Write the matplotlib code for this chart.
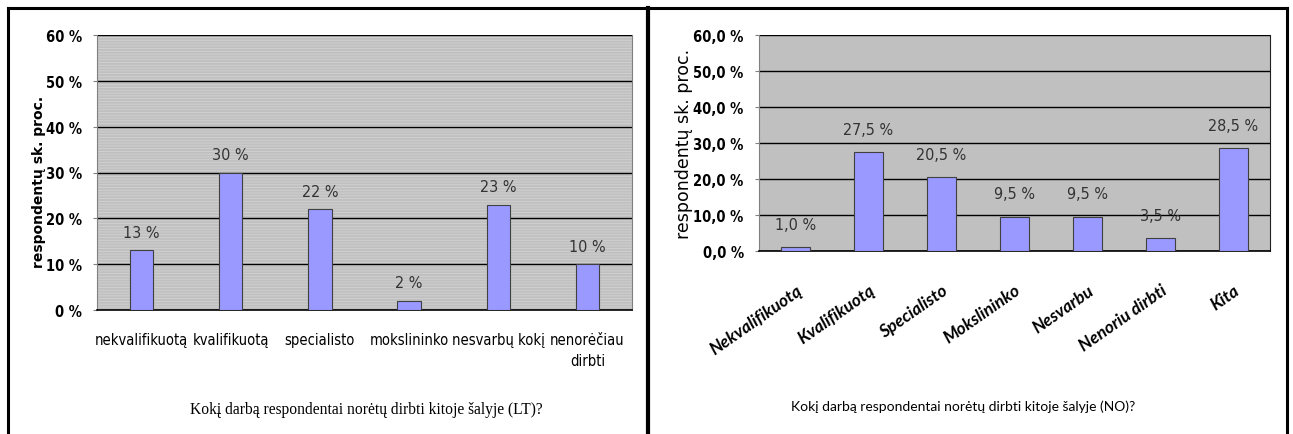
import matplotlib
matplotlib.use("Agg")
import numpy as np
from matplotlib import pyplot as plt
from matplotlib.lines import Line2D
from matplotlib.patches import Rectangle

# Left chart (LT)
lt_labels = ["nekvalifikuotą", "kvalifikuotą", "specialisto", "mokslininko", "nesvarbų kokį", "nenorėčiau\ndirbti"]
lt_values = [13, 30, 22, 2, 23, 10]
lt_title = "Kokį darbą respondentai norėtų dirbti kitoje šalyje (LT)?"

# Right chart (NO)
no_labels = ["Nekvalifikuotą", "Kvalifikuotą", "Specialisto", "Mokslininko", "Nesvarbu", "Nenoriu dirbti", "Kita"]
no_values = [1.0, 27.5, 20.5, 9.5, 9.5, 3.5, 28.5]
no_title = "Kokį darbą respondentai norėtų dirbti kitoje šalyje (NO)?"

y_ticks = [0, 10, 20, 30, 40, 50, 60]
ylabel = "respondentų sk. proc."

NARROW = dict(family="DejaVu Sans", stretch="condensed")
BAR_COLOR = "#9999FF"
BG = "#C0C0C0"

plt.rcParams["hatch.linewidth"] = 0.6

W, H = 1293, 435
fig = plt.figure(figsize=(W / 100, H / 100), dpi=100)
fig.patch.set_facecolor("white")


def px_ax(l, t, r, b):
	return fig.add_axes([l / W, 1 - b / H, (r - l) / W, (b - t) / H])


# ---- left chart ----
ax1 = px_ax(97, 36, 632, 311)
ax1.set_facecolor(BG)
ax1.add_patch(Rectangle((0, 0), 1, 1, transform=ax1.transAxes, facecolor=BG,
						edgecolor="#D2D2D2", linewidth=0, hatch="------", zorder=0))
x1 = np.arange(len(lt_values))
ax1.bar(x1, lt_values, width=0.26, color=BAR_COLOR, edgecolor="#404040", linewidth=0.8, zorder=3)
for xi, v in zip(x1, lt_values):
	ax1.text(xi, v + 2.3, f"{v} %", ha="center", va="bottom", fontsize=11.5,
			 color="#333333", zorder=4, **NARROW)
ax1.set_xlim(-0.5, len(lt_values) - 0.5)
ax1.set_ylim(0, 60)
ax1.set_yticks(y_ticks)
ax1.set_yticklabels([f"{t} %" for t in y_ticks], fontweight="bold", fontsize=10.5, **NARROW)
ax1.set_xticks(x1)
ax1.set_xticklabels(lt_labels, fontsize=10.5, linespacing=1.5, **NARROW)
ax1.tick_params(axis="x", length=0, pad=16)
ax1.tick_params(axis="y", length=3, color="#808080", pad=8)
ax1.grid(axis="y", color="black", linewidth=1)
ax1.set_axisbelow(True)
ax1.spines["left"].set_color("#808080")
ax1.spines["right"].set_color("#808080")
ax1.spines["top"].set_visible(False)
ax1.spines["bottom"].set_linewidth(1.2)
ax1.set_ylabel(ylabel, family="DejaVu Sans", fontweight="bold", fontsize=10)
ax1.yaxis.set_label_coords(-0.095, 0.47)

# ---- right chart ----
ax2 = px_ax(759, 36, 1270, 252)
ax2.set_facecolor(BG)
x2 = np.arange(len(no_values))
ax2.bar(x2, no_values, width=0.4, color=BAR_COLOR, edgecolor="#404040", linewidth=0.8, zorder=3)
for xi, v in zip(x2, no_values):
	ax2.text(xi, v + 4.3, f"{v:.1f} %".replace(".", ","), ha="center", va="bottom",
			 fontsize=11.5, color="#333333", zorder=4, **NARROW)
ax2.set_xlim(-0.5, len(no_values) - 0.5)
ax2.set_ylim(0, 60)
ax2.set_yticks(y_ticks)
ax2.set_yticklabels([f"{t:.1f} %".replace(".", ",") for t in y_ticks],
					fontweight="bold", fontsize=10.5, **NARROW)
ax2.set_xticks(x2)
ax2.set_xticklabels(no_labels, family=["Lato", "DejaVu Sans"], fontweight="bold", style="italic",
					fontsize=12.5, rotation=35, ha="right", rotation_mode="anchor")
ax2.tick_params(axis="x", length=0, pad=22)
ax2.tick_params(axis="y", length=3, color="#808080", pad=8)
ax2.grid(axis="y", color="black", linewidth=1)
ax2.set_axisbelow(True)
ax2.spines["left"].set_color("#808080")
ax2.spines["right"].set_color("#202020")
ax2.spines["top"].set_visible(False)
ax2.spines["bottom"].set_linewidth(1.2)
ax2.set_ylabel(ylabel, family="DejaVu Sans", fontsize=12.5)
ax2.yaxis.set_label_coords(-0.129, 0.5)

# titles under the charts
fig.text(366 / W, 1 - 410 / H, lt_title, ha="center", va="center", family="Liberation Serif", fontsize=11.2)
fig.text(963 / W, 1 - 407 / H, no_title, ha="center", va="center", family=["Lato", "DejaVu Sans"], fontsize=10)

# frame and divider (pixel positions)
frame = [((8, 9), (8, H), 2.2), ((8, 9), (1287, 9), 2.2), ((1287, 9), (1287, H), 2.2), ((648, 9), (648, H), 3)]
for (xa, ya), (xb, yb), lw in frame:
	fig.add_artist(Line2D([xa / W, xb / W], [1 - ya / H, 1 - yb / H], color="black", linewidth=lw))

fig.savefig("out.png", dpi=100)
